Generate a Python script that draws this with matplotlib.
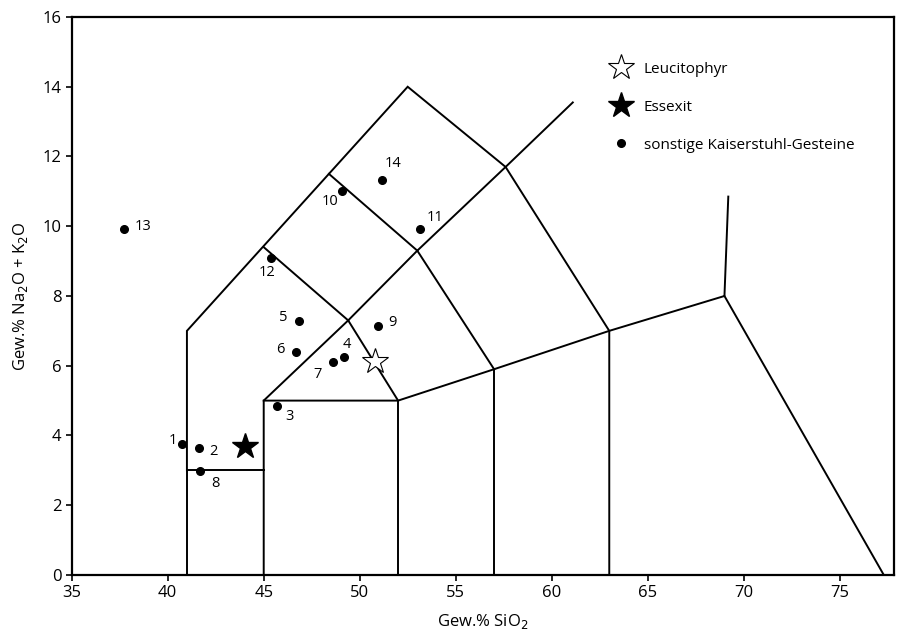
import matplotlib.pyplot as plt

plt.rcParams["font.family"] = ["Open Sans", "DejaVu Sans"]

# TAS field boundaries (SiO2, Na2O+K2O)
boundaries = [
    ([41, 41, 45], [0, 3, 3]),
    ([41, 41, 52.5, 57.6, 63, 63], [3, 7, 14, 11.7, 7, 0]),
    ([45, 45, 49.4, 53, 57.6, 61.1], [0, 5, 7.3, 9.3, 11.7, 13.55]),
    ([45, 52, 57, 63, 69, 69.2], [5, 5, 5.9, 7, 8, 10.85]),
    ([52, 52], [0, 5]),
    ([57, 57], [0, 5.9]),
    ([69, 77.3], [8, 0]),
    ([49.4, 52], [7.3, 5]),
    ([53, 57], [9.3, 5.9]),
    ([45, 49.4], [9.4, 7.3]),
    ([48.4, 53], [11.5, 9.3]),
]

# Kaiserstuhl samples
sample_ids = ["1", "2", "3", "4", "5", "6", "7", "8", "9", "10", "11", "12", "13", "14"]
sio2 = [40.76, 41.65, 45.68, 49.17, 46.82, 46.67, 48.61, 41.70, 50.97, 49.09, 53.14, 45.38, 37.72, 51.18]
alkali = [3.75, 3.65, 4.85, 6.25, 7.29, 6.39, 6.11, 2.99, 7.13, 11.0, 9.93, 9.10, 9.91, 11.32]
# label offsets in points
label_offsets = [(-10, 3), (7, -3), (6, -8), (-1, 9), (-14, 2), (-14, 2), (-14, -9), (8, -9),
                 (7, 3), (-15, -7), (5, 8), (-9, -11), (8, 2), (2, 12)]

essexit = (44.03, 3.70)
leucitophyr = (50.81, 6.13)

fig = plt.figure(figsize=(8.99, 6.39), dpi=100)
ax = fig.add_axes([0.0798, 0.1002, 0.9146, 0.8732])

for xs, ys in boundaries:
    ax.plot(xs, ys, color="black", lw=1.4, solid_joinstyle="miter")

ax.plot(sio2, alkali, "o", color="black", ms=5.5, ls="none",
        label="sonstige Kaiserstuhl-Gesteine", zorder=3)
for name, x, y, (dx, dy) in zip(sample_ids, sio2, alkali, label_offsets):
    ax.annotate(name, (x, y), xytext=(dx, dy), textcoords="offset points",
                fontsize=10.5, ha="left", va="center")

ax.plot(*leucitophyr, marker="*", ms=19, mfc="white", mec="black", mew=0.8,
        ls="none", label="Leucitophyr", zorder=4)
ax.plot(*essexit, marker="*", ms=19, color="black", ls="none",
        label="Essexit", zorder=4)

handles, labels = ax.get_legend_handles_labels()
order = [1, 2, 0]
ax.legend([handles[i] for i in order], [labels[i] for i in order],
          loc="upper left", bbox_to_anchor=(0.636, 0.939), frameon=False,
          fontsize=11, handletextpad=0.5, labelspacing=1.5, borderpad=0.2)

ax.set_xlim(35, 77.83)
ax.set_ylim(0, 16)
ax.set_xticks(range(35, 80, 5))
ax.set_yticks(range(0, 17, 2))
ax.tick_params(direction="out", length=4, width=1.2, labelsize=12,
               top=False, right=False)
for sp in ax.spines.values():
    sp.set_linewidth(1.6)

ax.set_xlabel("Gew.% SiO$_2$", fontsize=12, labelpad=8)
ax.set_ylabel("Gew.% Na$_2$O + K$_2$O", fontsize=12, labelpad=9)

fig.savefig("out.png", dpi=100)
